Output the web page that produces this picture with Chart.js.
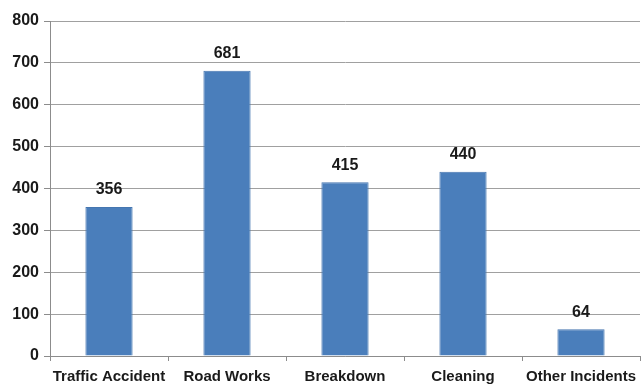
<!DOCTYPE html>
<html><head><meta charset="utf-8">
<script src="https://cdn.jsdelivr.net/npm/chart.js@4/dist/chart.umd.min.js"></script>
<style>html,body{margin:0;padding:0;background:#fff}#wrap{width:644px;height:388px}</style>
</head><body><div id="wrap"><canvas id="c" width="644" height="388"></canvas></div>
<script>
const categories = ["Traffic Accident", "Road Works", "Breakdown", "Cleaning", "Other Incidents"];
const incidents = [356, 681, 415, 440, 64];
const yTicks = [0, 100, 200, 300, 400, 500, 600, 700, 800];

const FONT = "'Liberation Sans', Arial, sans-serif";

const labelPlugin = {
  id: 'barLabels',
  afterDatasetsDraw(chart) {
    const ctx = chart.ctx;
    const meta = chart.getDatasetMeta(0);
    ctx.save();
    ctx.font = "bold 16px " + FONT;
    ctx.fillStyle = '#1a1a1a';
    ctx.textAlign = 'center';
    ctx.textBaseline = 'bottom';
    meta.data.forEach((bar, i) => {
      ctx.fillText(String(chart.data.datasets[0].data[i]), bar.x, bar.y - 9);
    });
    ctx.restore();
  }
};

new Chart(document.getElementById('c'), {
  type: 'bar',
  data: {
    labels: categories,
    datasets: [{
      data: incidents,
      backgroundColor: '#4a7ebb',
      borderColor: '#4576b0',
      borderWidth: 1,
      barPercentage: 0.4,
      categoryPercentage: 1.0
    }]
  },
  options: {
    responsive: false,
    animation: false,
    devicePixelRatio: 1,
    layout: { padding: { top: 21, right: 4, left: 0, bottom: 0 } },
    plugins: { legend: { display: false }, tooltip: { enabled: false } },
    scales: {
      y: {
        min: 0, max: 800,
        afterBuildTicks(s) { s.ticks = yTicks.map(v => ({ value: v })); },
        afterFit(s) { s.width = 50; },
        border: { color: '#8c8c8c', width: 1 },
        grid: { color: '#a0a0a0', tickLength: 6, tickColor: '#8c8c8c' },
        ticks: { font: { family: FONT, size: 16, weight: 'bold' }, color: '#1a1a1a', padding: 5 }
      },
      x: {
        afterFit(s) { s.height = 32; },
        border: { color: '#8c8c8c', width: 1 },
        grid: { drawOnChartArea: false, drawTicks: true, tickLength: 5, offset: true, tickColor: '#8c8c8c' },
        ticks: { font: { family: FONT, size: 15, weight: 'bold' }, color: '#1a1a1a', padding: 7, maxRotation: 0, autoSkip: false }
      }
    }
  },
  plugins: [labelPlugin]
});
</script></body></html>
